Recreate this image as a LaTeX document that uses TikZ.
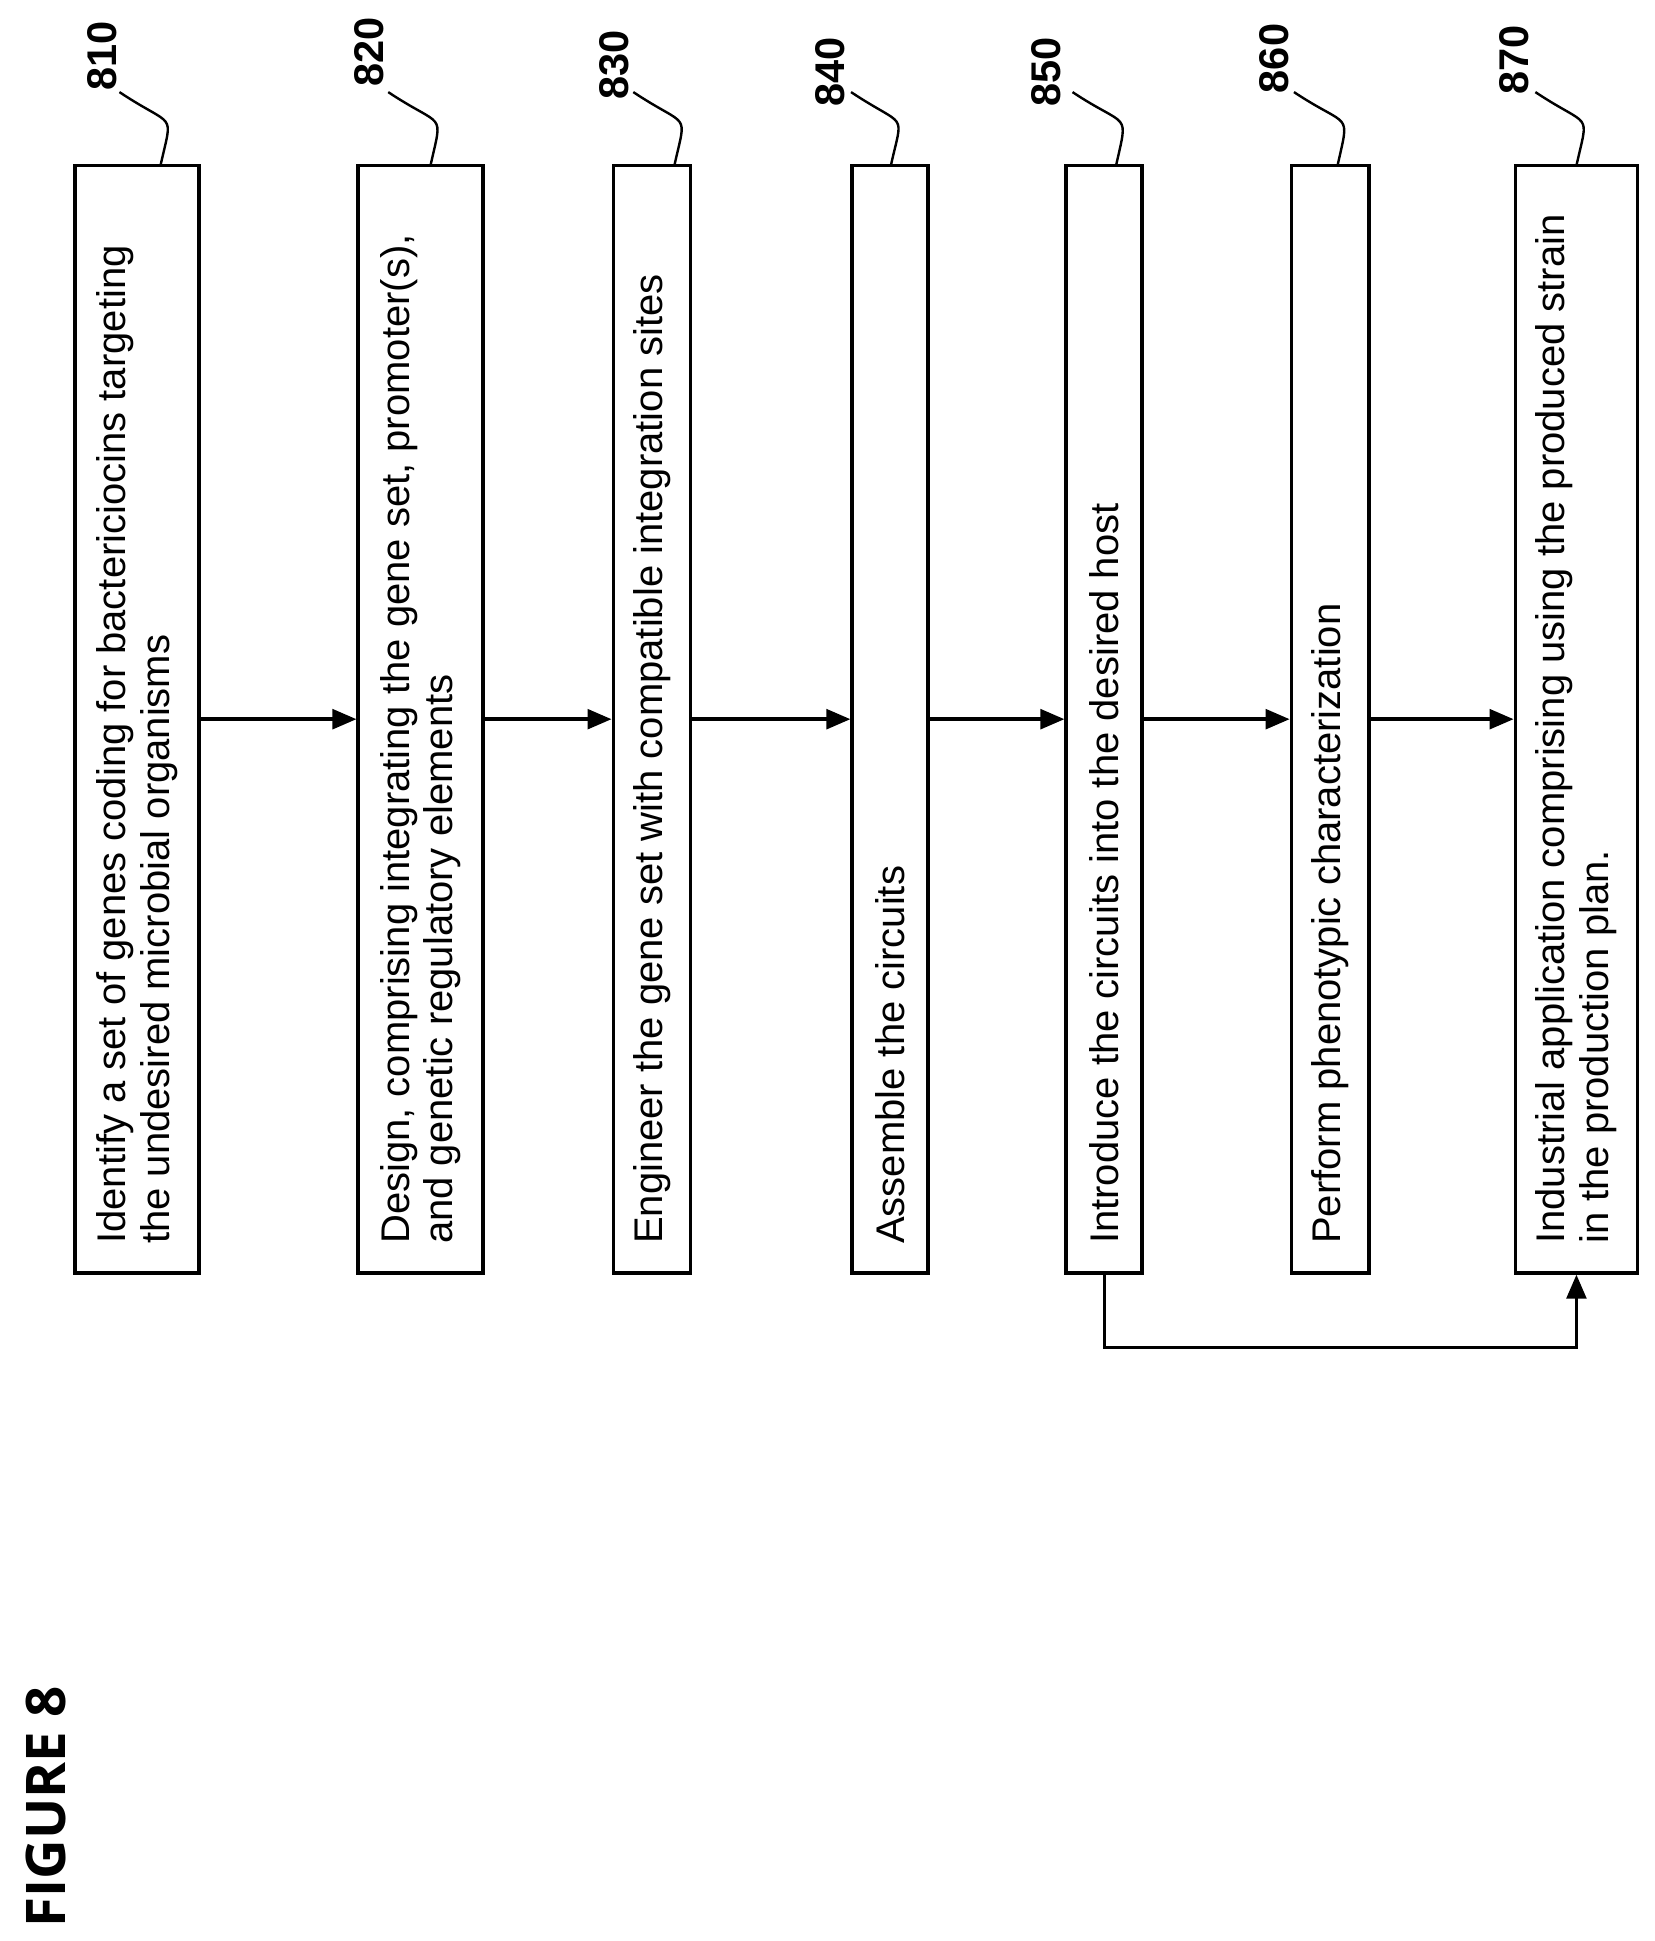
\documentclass[tikz,border=0pt]{standalone}
\usepackage{fontspec}
\setmainfont{Liberation Sans}
\newfontfamily\figfont{Open Sans}
\usetikzlibrary{arrows.meta,calc}
\begin{document}
\begin{tikzpicture}[x=0.02cm,y=-0.02cm,
  stepbox/.style={draw,line width=1.7pt,minimum width=#1*0.02cm,minimum height=17.8cm,inner sep=0pt},
  steptext/.style={rotate=90,anchor=west,align=left,font=\fontsize{18.3}{20}\selectfont,inner sep=0pt},
  reflabel/.style={rotate=90,font=\bfseries\fontsize{19}{20}\selectfont,inner sep=0pt},
  leader/.style={line width=1.1pt},
  flow/.style={line width=1.6pt,-{Triangle[length=11pt,width=9pt]}}]
\useasboundingbox (0,0) rectangle (1330,1560);
\node[stepbox=100] (b810) at (110,578) {};
\node[stepbox=100] (b820) at (338,578) {};
\node[stepbox=62] (b830) at (524,578) {};
\node[stepbox=61] (b840) at (715.5,578) {};
\node[stepbox=61] (b850) at (887.5,578) {};
\node[stepbox=62] (b860) at (1069,578) {};
\node[stepbox=98] (b870) at (1267,578) {};
\node[steptext] (t810) at (110,1000) {Identify a set of genes coding for bactericiocins targeting\\the undesired microbial organisms};
\node[steptext] (t820) at (338,1000) {Design, comprising integrating the gene set, promoter(s),\\and genetic regulatory elements};
\node[steptext] (t830) at (524,1000) {Engineer the gene set with compatible integration sites};
\node[steptext] (t840) at (715.5,1000) {Assemble the circuits};
\node[steptext] (t850) at (887.5,1000) {Introduce the circuits into the desired host};
\node[steptext] (t860) at (1069,1000) {Perform phenotypic characterization};
\node[steptext] (t870) at (1267,1000) {Industrial application comprising using the produced strain\\in the production plan.};
\draw[flow] (b810) -- (b820);
\draw[flow] (b820) -- (b830);
\draw[flow] (b830) -- (b840);
\draw[flow] (b840) -- (b850);
\draw[flow] (b850) -- (b860);
\draw[flow] (b860) -- (b870);
\coordinate (fb) at (887.5,1083);
\draw[flow] (b850.south) -- (fb) -| (b870.south);
% reference labels
\node[reflabel] (l810) at (82,45) {810};
\node[reflabel] (l820) at (297,42) {820};
\node[reflabel] (l830) at (494,52) {830};
\node[reflabel] (l840) at (667,58) {840};
\node[reflabel] (l850) at (841,58) {850};
\node[reflabel] (l860) at (1024,47) {860};
\node[reflabel] (l870) at (1217,48) {870};
\foreach \s/\e/\b in {96/129/b810, 312/346/b820, 509/542/b830, 684/716/b840, 862/897/b850, 1040/1075/b860, 1234/1267/b870}{
  \coordinate (s\b) at (\s,74);
  \coordinate (e\b) at (\e,133);
  \draw[leader] (s\b) .. controls ($(s\b)+(45,30)$) and ($(e\b)+(10,-45)$) .. (e\b);
}
\node[rotate=90,font=\figfont\bfseries\fontsize{25}{28}\selectfont,inner sep=0pt] (fig) at (37,1452) {FIGURE 8};
\end{tikzpicture}
\end{document}
